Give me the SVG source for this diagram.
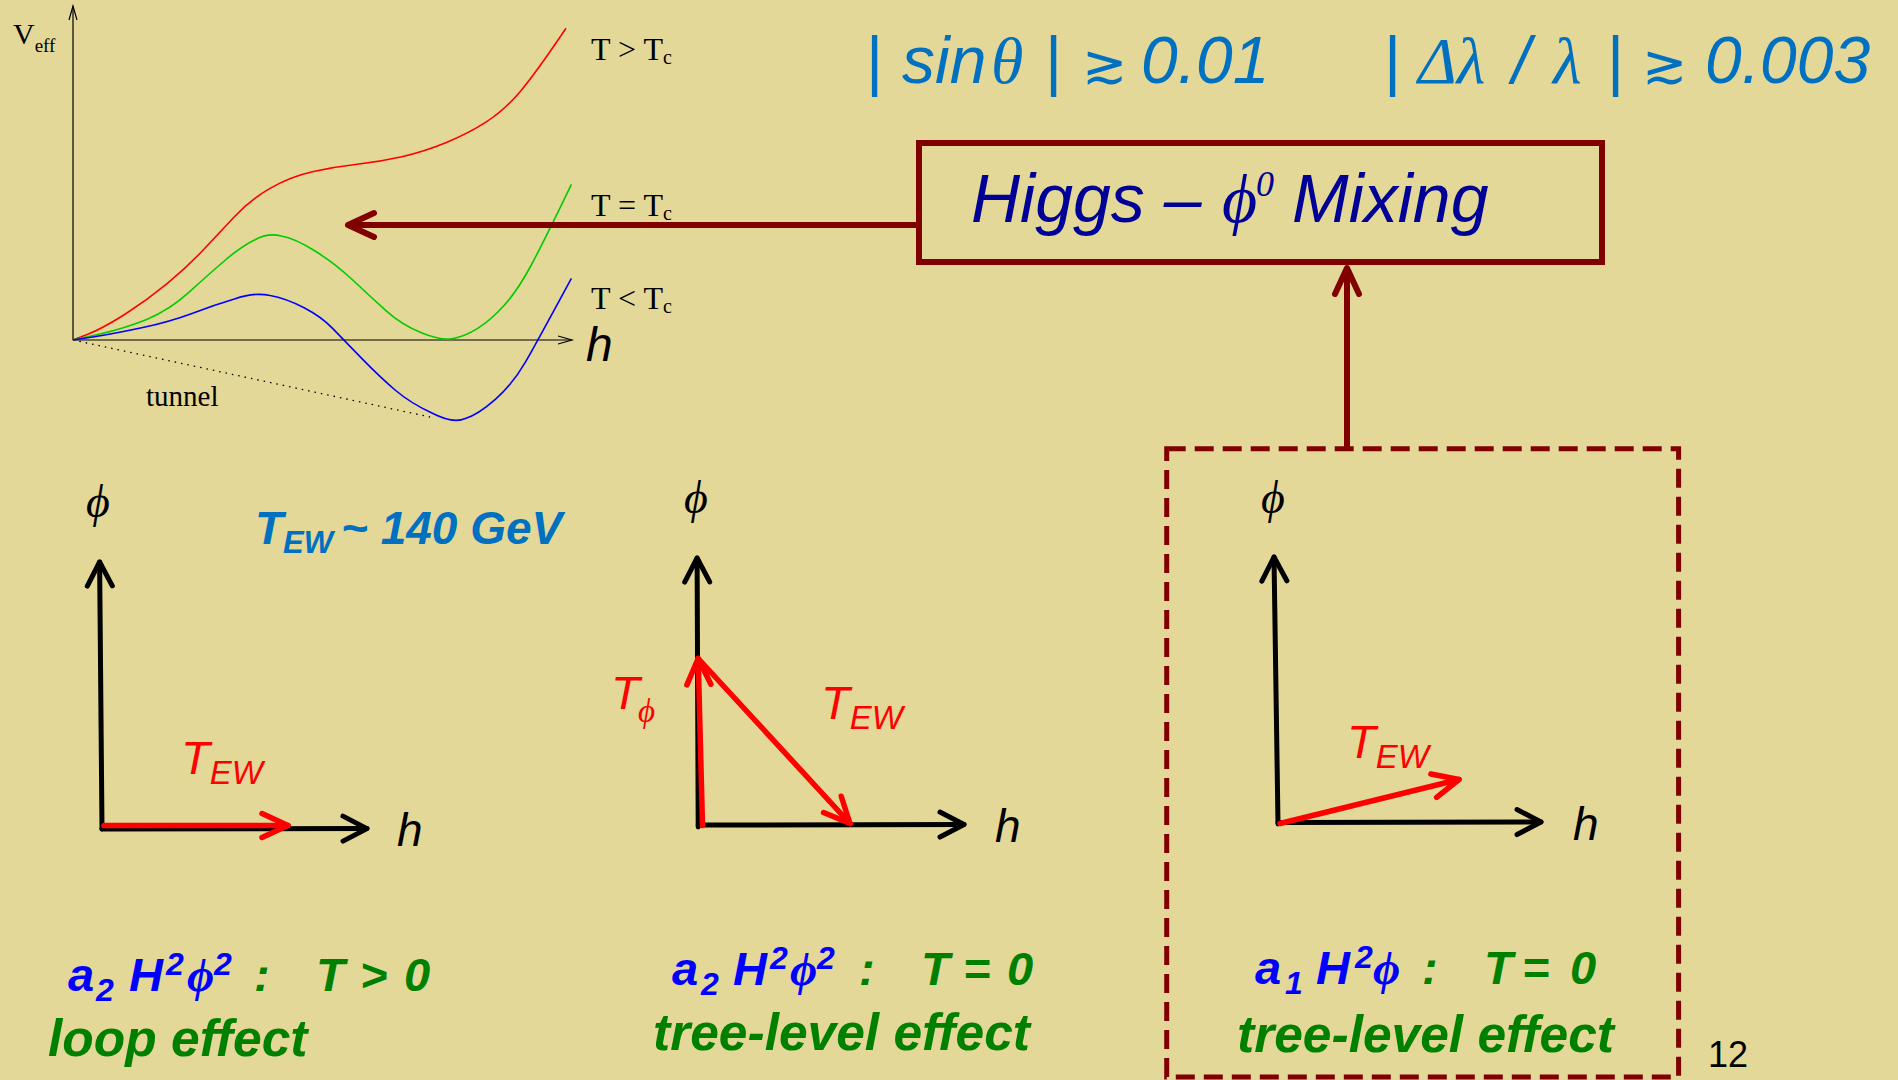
<svg xmlns="http://www.w3.org/2000/svg" width="1898" height="1080" viewBox="0 0 1898 1080">
<style>
.sans{font-family:"Liberation Sans",Arial,sans-serif}
.serif{font-family:"Liberation Serif","Times New Roman",serif}
.it{font-style:italic}
.bi{font-style:italic;font-weight:bold}
.curve{fill:none;stroke-width:1.6}
.ax{stroke:#000;stroke-width:5;fill:none;stroke-linecap:round}
.red{stroke:#FF0000;stroke-width:5.5;fill:none;stroke-linecap:round}
.dred{stroke:#800000;stroke-width:6;fill:none}
.blueF{fill:#0000FF}
.greenF{fill:#008000}
.skyF{fill:#0070C0}
</style>
<defs>
<marker id="ahBlack" viewBox="-30 -16 36 32" refX="0" refY="0" markerWidth="36" markerHeight="32" markerUnits="userSpaceOnUse" orient="auto" overflow="visible">
<path d="M-24,-12.5 L0,0 L-24,12.5" fill="none" stroke="#000" stroke-width="5" stroke-linecap="round" stroke-linejoin="round"/>
</marker>
<marker id="ahRed" viewBox="-30 -16 36 32" refX="0" refY="0" markerWidth="36" markerHeight="32" markerUnits="userSpaceOnUse" orient="auto" overflow="visible">
<path d="M-26,-12 L0,0 L-26,12" fill="none" stroke="#FF0000" stroke-width="5.5" stroke-linecap="round" stroke-linejoin="round"/>
</marker>
<marker id="ahDred" viewBox="-30 -16 36 32" refX="0" refY="0" markerWidth="36" markerHeight="32" markerUnits="userSpaceOnUse" orient="auto" overflow="visible">
<path d="M-26,-12 L0,0 L-26,12" fill="none" stroke="#800000" stroke-width="6" stroke-linecap="round" stroke-linejoin="round"/>
</marker>
<marker id="ahThin" viewBox="-16 -8 18 16" refX="0" refY="0" markerWidth="18" markerHeight="16" markerUnits="userSpaceOnUse" orient="auto" overflow="visible">
<path d="M-14,-4 L0,0 L-14,4" fill="none" stroke="#000" stroke-width="1.2"/>
</marker>
</defs>
<rect x="0" y="0" width="1898" height="1080" fill="#E4D898"/>

<!-- Potential plot -->
<g id="potential-plot">
<line x1="73" y1="340" x2="73" y2="6" stroke="#000" stroke-width="1.2" marker-end="url(#ahThin)"/>
<line x1="73" y1="340" x2="572" y2="340" stroke="#000" stroke-width="1.2" marker-end="url(#ahThin)"/>
<line x1="73" y1="340" x2="430" y2="417" stroke="#000" stroke-width="1.3" stroke-dasharray="1.5 5"/>
<path class="curve" stroke="#FF0000" d="M72.8,340 L87.8,334.2 Q102.7,328.3 125,314.2 Q147.3,300 167.4,283.4 Q187.5,266.7 203.2,250 Q218.8,233.3 234.4,216.7 Q250,200 270,188.4 Q290,176.7 312.4,171.7 Q334.8,166.7 357.2,164.2 Q379.5,161.7 401.8,156.7 Q424,151.7 446.4,142.5 Q468.8,133.3 486.7,121.7 Q504.5,110 520.1,91.7 Q535.7,73.3 566,28.3"/>
<path class="curve" stroke="#00CC00" d="M72.8,340 L98.9,334.2 Q125,328.3 147.3,319.2 Q169.6,310 189.7,291.7 Q209.8,273.3 225.4,260 Q241,246.7 254.5,240 Q267.9,232.5 281.3,236 Q294.6,238.3 314.7,250.8 Q334.8,263.3 352.7,280 Q370.5,296.7 386.2,310.9 Q401.8,325 421.9,333 Q442,341 453.2,338.5 Q464.3,336.7 477.7,328.4 Q491,320 504.5,305 Q517.9,290 531.3,265 Q544.6,240 571.4,184.3"/>
<path class="curve" stroke="#0000FF" d="M72.8,340 L94.4,336.7 Q116,333.3 142.8,327.5 Q169.6,321.7 192,313.4 Q214.3,305 234.4,299 Q254.5,292 270.1,295.5 Q285.7,298.3 303.6,307.5 Q321.4,316.7 332.6,328.4 Q343.8,340 361.7,358.4 Q379.5,376.7 395.1,390 Q410.7,403.3 431.9,413 Q453,424 465.4,418.5 Q477.7,415 495.6,399.2 Q513.4,383.3 525.7,361.7 Q538,340 571.4,278.3"/>
<text class="serif" x="13" y="44" font-size="30">V<tspan font-size="19" dy="8">eff</tspan></text>
<text class="serif" x="591" y="60" font-size="32">T &gt; T<tspan font-size="20" dy="4">c</tspan></text>
<text class="serif" x="591" y="216" font-size="32">T = T<tspan font-size="20" dy="4">c</tspan></text>
<text class="serif" x="591" y="309" font-size="32">T &lt; T<tspan font-size="20" dy="4">c</tspan></text>
<text class="sans it" x="586" y="361" font-size="48">h</text>
<text class="serif" x="146" y="406" font-size="29">tunnel</text>
</g>

<!-- Top constraints -->
<g id="constraints" class="skyF">
<text class="sans" font-size="66" x="866" y="83">|</text>
<text class="sans it" font-size="66" x="902" y="83">sin</text>
<text class="serif it" font-size="66" x="991" y="83">θ</text>
<text class="sans" font-size="66" x="1045" y="83">|</text>
<text font-family="DejaVu Sans, sans-serif" font-size="54" x="1082" y="83">≳</text>
<text class="sans it" font-size="66" x="1141" y="83">0.01</text>
<text class="sans" font-size="66" x="1384" y="83">|</text>
<text class="serif it" font-size="66" x="1418" y="83">Δλ</text>
<text class="sans it" font-size="66" x="1512" y="83">/</text>
<text class="serif it" font-size="66" x="1553" y="83">λ</text>
<text class="sans" font-size="66" x="1607" y="83">|</text>
<text font-family="DejaVu Sans, sans-serif" font-size="54" x="1642" y="83">≳</text>
<text class="sans it" font-size="66" x="1705" y="83">0.003</text>
</g>

<!-- Mixing box -->
<g id="mixing-box">
<rect x="919" y="143" width="683" height="119" class="dred"/>
<text font-size="68" y="222" fill="#000096"><tspan class="sans it" x="971">Higgs – </tspan><tspan class="serif it" x="1222">ϕ</tspan><tspan class="serif it" font-size="36" x="1256" y="196">0</tspan><tspan class="sans it" x="1292" y="222">Mixing</tspan></text>
</g>

<!-- Connectors -->
<g id="connectors">
<line x1="919" y1="225" x2="348" y2="225" class="dred" marker-end="url(#ahDred)"/>
<line x1="1347" y1="449" x2="1347" y2="268" class="dred" marker-end="url(#ahDred)"/>
</g>

<!-- Panel 1 -->
<g id="panel-loop">
<text class="serif it" font-size="46" x="86" y="517">ϕ</text>
<line x1="102" y1="829" x2="99.6" y2="562" class="ax" marker-end="url(#ahBlack)"/>
<line x1="102" y1="829" x2="367" y2="828.6" class="ax" marker-end="url(#ahBlack)"/>
<line x1="104" y1="825.5" x2="288" y2="825.5" class="red" marker-end="url(#ahRed)"/>
<text class="sans it" fill="#FF0000" font-size="47" x="181" y="774">T<tspan font-size="33" dy="10">EW</tspan></text>
<text class="sans it" font-size="46" x="397" y="846">h</text>
<text class="sans bi skyF" font-size="46" x="255" y="544">T<tspan font-size="31" dy="9">EW</tspan><tspan x="341" dy="-9">~ 140 GeV</tspan></text>
<text font-size="47" y="991">
<tspan class="sans bi blueF" x="68">a</tspan><tspan class="sans bi blueF" font-size="32" x="96" y="1001">2</tspan><tspan class="sans bi blueF" x="129" y="991">H</tspan><tspan class="sans bi blueF" font-size="32" x="166" y="975">2</tspan><tspan class="serif bi blueF" x="187" y="991">ϕ</tspan><tspan class="sans bi blueF" font-size="32" x="214" y="975">2</tspan><tspan class="sans bi greenF" x="254" y="991">:</tspan><tspan class="sans bi greenF" x="316">T</tspan><tspan class="sans bi greenF" x="360">&gt;</tspan><tspan class="sans bi greenF" x="404">0</tspan>
</text>
<text class="sans bi greenF" font-size="51.5" x="48" y="1056">loop effect</text>
</g>

<!-- Panel 2 -->
<g id="panel-tree-a2">
<text class="serif it" font-size="46" x="684" y="513">ϕ</text>
<line x1="698.2" y1="827" x2="697.1" y2="558" class="ax" marker-end="url(#ahBlack)"/>
<line x1="698.2" y1="825" x2="964" y2="824.5" class="ax" marker-end="url(#ahBlack)"/>
<line x1="702.5" y1="825.5" x2="698.2" y2="658.5" class="red" marker-end="url(#ahRed)"/>
<line x1="698.2" y1="658.5" x2="850" y2="823.5" class="red" marker-end="url(#ahRed)"/>
<text class="sans it" fill="#FF0000" font-size="47" x="611" y="709">T<tspan class="serif it" font-size="33" x="638" dy="13">ϕ</tspan></text>
<text class="sans it" fill="#FF0000" font-size="47" x="821" y="719">T<tspan font-size="33" dy="10">EW</tspan></text>
<text class="sans it" font-size="46" x="995" y="842">h</text>
<text font-size="47" y="985">
<tspan class="sans bi blueF" x="672">a</tspan><tspan class="sans bi blueF" font-size="32" x="701" y="995">2</tspan><tspan class="sans bi blueF" x="733" y="985">H</tspan><tspan class="sans bi blueF" font-size="32" x="770" y="969">2</tspan><tspan class="serif bi blueF" x="790" y="985">ϕ</tspan><tspan class="sans bi blueF" font-size="32" x="817" y="969">2</tspan><tspan class="sans bi greenF" x="859" y="985">:</tspan><tspan class="sans bi greenF" x="921">T</tspan><tspan class="sans bi greenF" x="963">=</tspan><tspan class="sans bi greenF" x="1007">0</tspan>
</text>
<text class="sans bi greenF" font-size="51.5" x="653" y="1050">tree-level effect</text>
</g>

<!-- Panel 3 (dashed box) -->
<g id="panel-tree-a1">
<rect x="1166.7" y="448.7" width="511.9" height="628.3" fill="none" stroke="#800000" stroke-width="5" stroke-dasharray="19 9"/>
<text class="serif it" font-size="46" x="1261" y="513">ϕ</text>
<line x1="1278" y1="824" x2="1274" y2="557" class="ax" marker-end="url(#ahBlack)"/>
<line x1="1278" y1="822.5" x2="1541" y2="822" class="ax" marker-end="url(#ahBlack)"/>
<line x1="1280" y1="823.5" x2="1459" y2="779.5" class="red" marker-end="url(#ahRed)"/>
<text class="sans it" fill="#FF0000" font-size="47" x="1347" y="758">T<tspan font-size="33" dy="10">EW</tspan></text>
<text class="sans it" font-size="46" x="1573" y="840">h</text>
<text font-size="47" y="984">
<tspan class="sans bi blueF" x="1255">a</tspan><tspan class="sans bi blueF" font-size="32" x="1285" y="994">1</tspan><tspan class="sans bi blueF" x="1316" y="984">H</tspan><tspan class="sans bi blueF" font-size="32" x="1355" y="968">2</tspan><tspan class="serif bi blueF" x="1373" y="984">ϕ</tspan><tspan class="sans bi greenF" x="1422">:</tspan><tspan class="sans bi greenF" x="1484">T</tspan><tspan class="sans bi greenF" x="1522">=</tspan><tspan class="sans bi greenF" x="1570">0</tspan>
</text>
<text class="sans bi greenF" font-size="51.5" x="1237" y="1052">tree-level effect</text>
</g>

<text class="sans" font-size="36" x="1708" y="1067">12</text>
</svg>
